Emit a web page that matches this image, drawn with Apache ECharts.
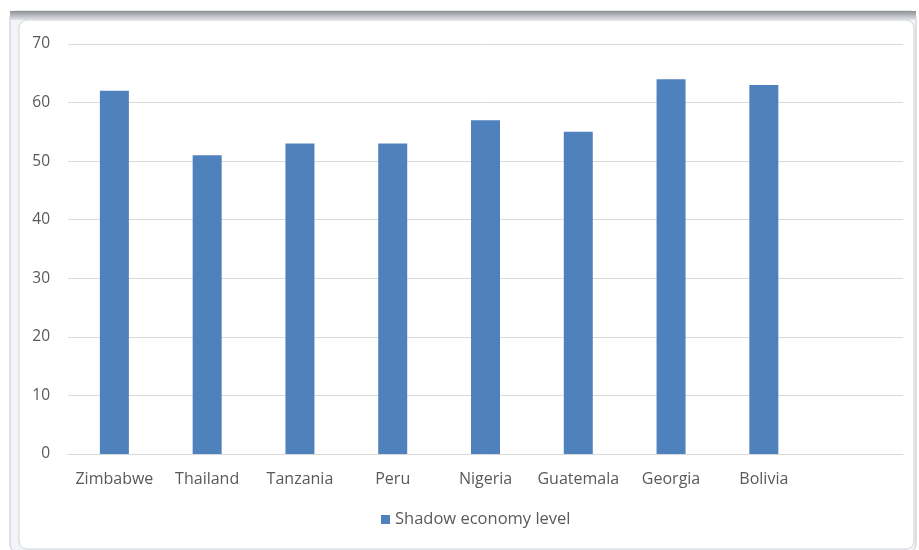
<!DOCTYPE html>
<html>
<head>
<meta charset="utf-8">
<script src="https://cdn.jsdelivr.net/npm/echarts@6/dist/echarts.min.js"></script>
<style>
  html, body { margin: 0; padding: 0; background: #fff; }
  #chart { width: 919px; height: 550px; }
</style>
</head>
<body>
<div id="chart"></div>
<script>
var countries = ["Zimbabwe", "Thailand", "Tanzania", "Peru", "Nigeria", "Guatemala", "Georgia", "Bolivia", ""];
var shadowLevel = [62, 51, 53, 53, 57, 55, 64, 63, null];
var yTicks = [0, 10, 20, 30, 40, 50, 60, 70];

var myChart = echarts.init(document.getElementById("chart"));
var option = {
  animation: false,
  backgroundColor: "#ffffff",
  textStyle: { fontFamily: "Open Sans" },
  graphic: [
    // window frame
    {
      type: "rect",
      shape: { x: 10, y: 11, width: 906, height: 540, r: 6 },
      style: { fill: "#f3f4f7", stroke: "#c4c8cf", lineWidth: 1 },
      z: -10
    },
    {
      type: "rect",
      shape: { x: 10, y: 11, width: 906, height: 9 },
      style: {
        fill: new echarts.graphic.LinearGradient(0, 0, 0, 1, [
          { offset: 0, color: "#8d9096" },
          { offset: 1, color: "#e2e4e8" }
        ])
      },
      z: -9
    },
    {
      type: "rect",
      shape: { x: 19, y: 20, width: 895, height: 529, r: 8 },
      style: { fill: "#ffffff", stroke: "#d0d3d8", lineWidth: 1 },
      z: -8
    }
  ],
  grid: { left: 68, right: 16, top: 44, bottom: 96, containLabel: false },
  legend: {
    bottom: 17,
    left: 376,
    itemWidth: 9,
    itemHeight: 9,
    itemGap: 6,
    icon: "rect",
    textStyle: { color: "#595959", fontSize: 16.5 },
    data: ["Shadow economy level"]
  },
  xAxis: {
    type: "category",
    data: countries,
    axisLine: { show: true, lineStyle: { color: "#d9d9d9" } },
    axisTick: { show: false },
    axisLabel: { color: "#595959", fontSize: 16, margin: 17, interval: 0 }
  },
  yAxis: {
    type: "value",
    min: yTicks[0],
    max: yTicks[yTicks.length - 1],
    interval: 10,
    axisLine: { show: false },
    axisTick: { show: false },
    axisLabel: { color: "#595959", fontSize: 15.5, margin: 18 },
    splitLine: { lineStyle: { color: "#d9d9d9" } }
  },
  series: [
    {
      name: "Shadow economy level",
      type: "bar",
      data: shadowLevel,
      barWidth: 29,
      itemStyle: { color: "#4f81bd" }
    }
  ]
};
myChart.setOption(option);
</script>
</body>
</html>
